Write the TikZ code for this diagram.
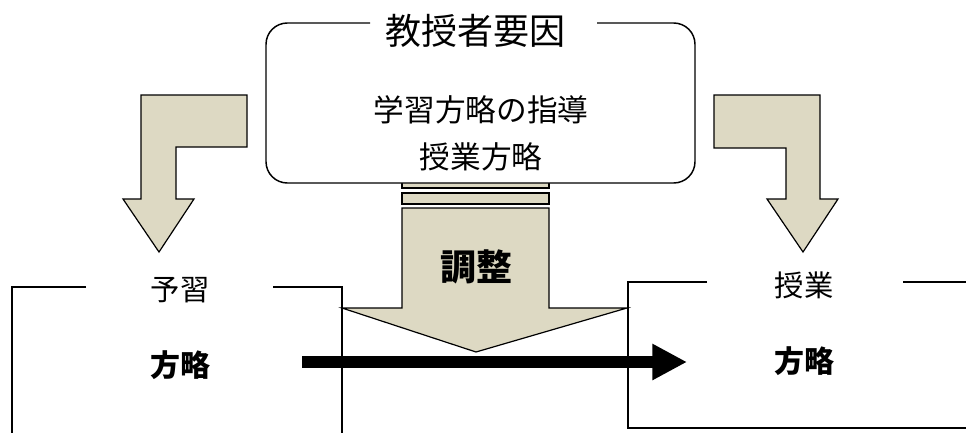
\documentclass[tikz,border=0pt]{standalone}
\usepackage{fontspec}
\usetikzlibrary{arrows.meta}
\newfontfamily\jp{Noto Sans CJK JP}
\definecolor{beige}{HTML}{DDD9C3}
\begin{document}
\begin{tikzpicture}[x=0.75pt,y=-0.75pt,line join=miter]
\tikzset{
  fatarrow/.style={draw=black,line width=0.9pt,fill=beige},
  frame/.style={draw=black,line width=1.1pt},
  title/.style={font=\jp\fontsize{27}{30}\selectfont,inner sep=0pt},
  body/.style={font=\jp\fontsize{23}{26}\selectfont,inner sep=0pt},
  lbl/.style={font=\jp\fontsize{22}{24}\selectfont,inner sep=0pt},
  strat/.style={font=\jp\bfseries\fontsize{22.5}{24}\selectfont,inner sep=0pt},
  adjust/.style={font=\jp\bfseries\fontsize{27}{30}\selectfont,inner sep=0pt},
}
\useasboundingbox (0,0) rectangle (966,432);
% big arrow
\draw[fatarrow] (402,182) rectangle (549,188);
\draw[fatarrow] (402,193) rectangle (549,204);
\draw[fatarrow] (402,208) -- (549,208) -- (549,308) -- (627,308) -- (476,352) -- (342,308) -- (402,308) -- cycle;
\node[adjust] (adj) at (476,267) {調整};
% top box
\fill[white,rounded corners=16pt] (266,23) rectangle (695,183);
\draw[frame,rounded corners=16pt] (370,23) -- (266,23) -- (266,183) -- (695,183) -- (695,23) -- (597,23);
\node[title] (teacher) at (475,31) {教授者要因};
\node[body] (guide) at (481,110) {学習方略の指導};
\node[body] (teach) at (481,157) {授業方略};
% bent arrows
\draw[fatarrow] (247,95) -- (141,95) -- (141,199) -- (123,199) -- (159,252) -- (194,199) -- (176,199) -- (176,147) -- (247,147) -- cycle;
\draw[fatarrow] (714,95) -- (820,95) -- (820,199) -- (838,199) -- (803,252) -- (767,199) -- (786,199) -- (786,148) -- (714,148) -- cycle;
% left box
\draw[frame] (86,287) -- (12,287) -- (12,440);
\draw[frame] (273,287) -- (342,287) -- (342,440);
\node[lbl] (prep) at (180,290) {予習};
\node[strat] (sl) at (180,365) {方略};
% right box
\draw[frame] (707,282) -- (628,282) -- (628,428) -- (975,428);
\draw[frame] (903,282) -- (975,282);
\node[lbl] (class) at (804,285) {授業};
\node[strat] (sr) at (804,361) {方略};
% black arrow
\coordinate (a0) at (302,362);
\coordinate (a1) at (687,362);
\draw[line width=9pt,-{Triangle[length=26pt,width=25.5pt]}] (a0) -- (a1);
\end{tikzpicture}
\end{document}
